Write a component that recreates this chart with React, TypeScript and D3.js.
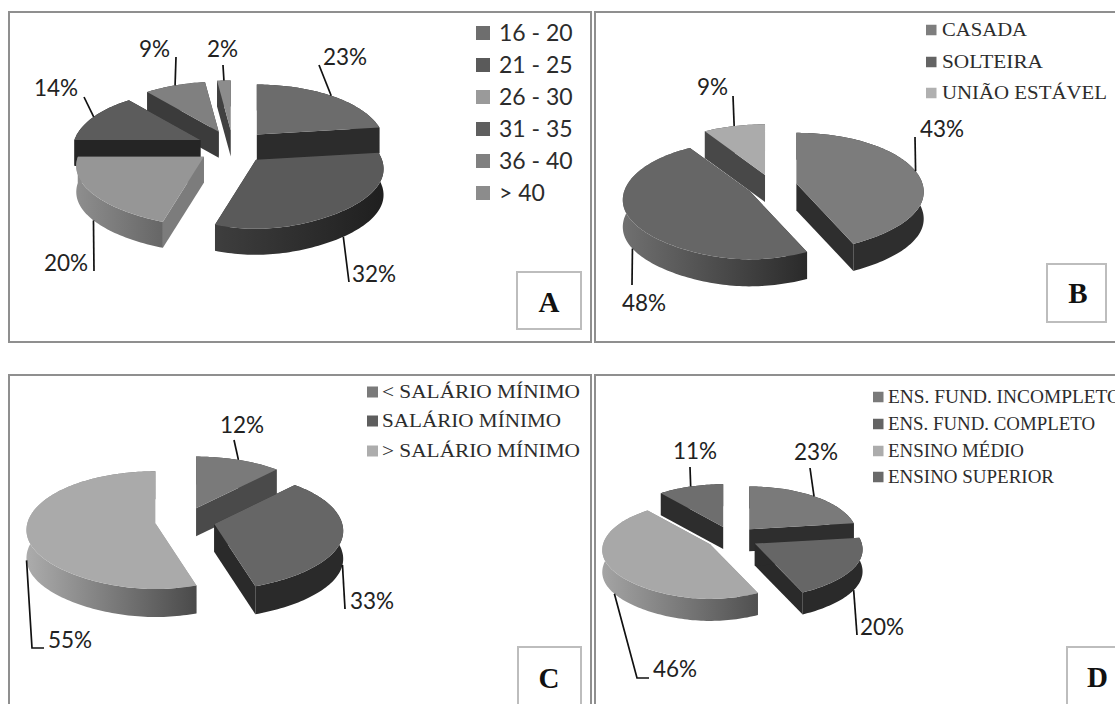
import React from "react";
import * as d3 from "d3";

// Percent shares per panel
const ageLabels = ["16 - 20", "21 - 25", "26 - 30", "31 - 35", "36 - 40", "> 40"];
const ageValues = [23, 32, 20, 14, 9, 2];
const maritalLabels = ["CASADA", "SOLTEIRA", "UNIÃO ESTÁVEL"];
const maritalValues = [43, 48, 9];
const incomeLabels = ["< SALÁRIO MÍNIMO", "SALÁRIO MÍNIMO", "> SALÁRIO MÍNIMO"];
const incomeValues = [12, 33, 55];
const schoolLabels = ["ENS. FUND. INCOMPLETO", "ENS. FUND. COMPLETO", "ENSINO MÉDIO", "ENSINO SUPERIOR"];
const schoolValues = [23, 20, 46, 11];

type Pt = [number, number];
type Panel = {
  id: string;
  frame: [number, number, number, number];
  badge: [number, number, number, number];
  badgeText: [number, number];
  labels: string[];
  values: number[];
  cx: number; cy: number; rx: number; ry: number; k: number; depth: number; explode: number;
  tops: string[];
  radial: string[];
  walls: [string, string][];
  swatches: string[];
  leaderEnds: Pt[][];
  textAt: Pt[];
  legend: { x: number; textX: number; ys: number[]; size: number; widths?: number[]; font: string; fontSize: number };
};

const panels: Panel[] = [
  {
    id: "A", frame: [9, 12, 582, 330], badge: [517, 272, 64, 57], badgeText: [549, 312],
    labels: ageLabels, values: ageValues,
    cx: 233, cy: 147, rx: 126, ry: 58, k: 0.16, depth: 26, explode: 36,
    tops: ["#6c6c6c", "#5a5a5a", "#969696", "#5c5c5c", "#808080", "#8c8c8c"],
    radial: ["#2c2c2c", "#2c2c2c", "#7c7c7c", "#252525", "#3b3b3b", "#404040"],
    walls: [["#2c2c2c", "#2c2c2c"], ["#3e3e3e", "#1f1f1f"], ["#8e8e8e", "#666666"], ["#252525", "#252525"], ["#3b3b3b", "#3b3b3b"], ["#404040", "#404040"]],
    swatches: ["#6e6e6e", "#5a5a5a", "#9a9a9a", "#5f5f5f", "#808080", "#8c8c8c"],
    leaderEnds: [[[319, 65]], [[349, 282]], [[94, 271]], [[84, 97]], [[176, 57]], [[223, 65]]],
    textAt: [[323, 65], [352, 282], [44, 271], [34, 96], [139, 57], [207, 57]],
    legend: { x: 476, textX: 499, ys: [33, 65, 97, 129, 161, 193], size: 14, font: "Lato", fontSize: 23 },
  },
  {
    id: "B", frame: [595, 12, 530, 330], badge: [1047, 264, 59, 58], badgeText: [1078, 303],
    labels: maritalLabels, values: maritalValues,
    cx: 772, cy: 186, rx: 126, ry: 58, k: 0.145, depth: 27, explode: 25,
    tops: ["#7c7c7c", "#666666", "#ababab"],
    radial: ["#2e2e2e", "#2e2e2e", "#484848"],
    walls: [["#2e2e2e", "#2e2e2e"], ["#707070", "#2a2a2a"], ["#484848", "#484848"]],
    swatches: ["#7e7e7e", "#646464", "#b0b0b0"],
    leaderEnds: [[[915, 137]], [[632, 285]], [[733, 96]]],
    textAt: [[920, 137], [622, 311], [697, 95]],
    legend: { x: 926, textX: 942, ys: [30, 62, 93], size: 10.5, widths: [85, 101, 165], font: "Liberation Serif", fontSize: 18 },
  },
  {
    id: "C", frame: [9, 375, 582, 340], badge: [518, 647, 63, 70], badgeText: [549, 688],
    labels: incomeLabels, values: incomeValues,
    cx: 185, cy: 521, rx: 128, ry: 58, k: 0.12, depth: 28, explode: 30,
    tops: ["#7a7a7a", "#666666", "#aaaaaa"],
    radial: ["#4a4a4a", "#2a2a2a", "#9a9a9a"],
    walls: [["#4a4a4a", "#4a4a4a"], ["#2a2a2a", "#2a2a2a"], ["#acacac", "#4a4a4a"]],
    swatches: ["#7a7a7a", "#5e5e5e", "#adadad"],
    leaderEnds: [[[234, 440]], [[345, 609]], [[32, 648], [44, 648]]],
    textAt: [[220, 433], [350, 609], [48, 648]],
    legend: { x: 367, textX: 382, ys: [392, 421, 451], size: 11, widths: [198, 179, 198], font: "Liberation Serif", fontSize: 18 },
  },
  {
    id: "D", frame: [595, 375, 530, 340], badge: [1067, 647, 60, 70], badgeText: [1087, 687],
    labels: schoolLabels, values: schoolValues,
    cx: 732, cy: 538, rx: 107, ry: 48, k: 0.122, depth: 22, explode: 26,
    tops: ["#7a7a7a", "#666666", "#a8a8a8", "#6e6e6e"],
    radial: ["#2e2e2e", "#2a2a2a", "#909090", "#2d2d2d"],
    walls: [["#2e2e2e", "#2e2e2e"], ["#2a2a2a", "#2a2a2a"], ["#a4a4a4", "#505050"], ["#2d2d2d", "#2d2d2d"]],
    swatches: ["#7a7a7a", "#646464", "#acacac", "#6a6a6a"],
    leaderEnds: [[[810, 468]], [[857, 635]], [[637, 678], [649, 678]], [[690, 467]]],
    textAt: [[794, 460], [860, 635], [653, 677], [673, 459]],
    legend: { x: 873, textX: 888, ys: [397, 424, 451, 477], size: 10.5, widths: [233, 207, 136, 166], font: "Liberation Serif", fontSize: 18 },
  },
];

const toPath = d3.line<Pt>().x((p) => p[0]).y((p) => p[1]);
const closed = (pts: Pt[]) => (toPath(pts) as string) + "Z";
const lowered = (pts: Pt[], d: number): Pt[] => pts.map(([x, y]) => [x, y + d] as Pt);

// Rim point of a slice around its own apex; the near side is foreshortened less in x
const rimOffset = (p: Panel, a: number): Pt => {
  const s = 1 / (1 + p.k * Math.cos(a));
  const sx = Math.cos(a) < 0 ? Math.pow(s, Math.abs(Math.sin(a))) : s;
  return [p.rx * Math.sin(a) * sx, -p.ry * Math.cos(a) * s];
};
const apexOf = (p: Panel, mid: number): Pt => [
  p.cx + p.explode * Math.sin(mid),
  p.cy - (p.explode * p.ry * Math.cos(mid)) / p.rx,
];

// One exploded slice of a tilted pie
function Slice({ panel, index, arc }: { panel: Panel; index: number; arc: d3.PieArcDatum<number> }) {
  const mid = (arc.startAngle + arc.endAngle) / 2;
  const apex = apexOf(panel, mid);
  const rim = (a: number): Pt => {
    const [dx, dy] = rimOffset(panel, a);
    return [apex[0] + dx, apex[1] + dy];
  };
  const steps = Math.max(6, Math.ceil((arc.endAngle - arc.startAngle) * 40));
  const angle = d3.scaleLinear().domain([0, steps]).range([arc.startAngle, arc.endAngle]);
  const arcPts = d3.range(steps + 1).map((i) => rim(angle(i)));
  const first = arcPts[0];
  const last = arcPts[arcPts.length - 1];
  const gradId = `wall-${panel.id}-${index}`;
  const depth = panel.depth;
  return (
    <g>
      <defs>
        <linearGradient id={gradId} x1="0" x2="1" y1="0" y2="0">
          <stop offset="0" stopColor={panel.walls[index][0]} />
          <stop offset="1" stopColor={panel.walls[index][1]} />
        </linearGradient>
      </defs>
      <path d={closed([apex, last, ...lowered([last, apex], depth)])} fill={panel.radial[index]} />
      <path d={closed([apex, first, ...lowered([first, apex], depth)])} fill={panel.radial[index]} />
      <path d={closed([...arcPts, ...lowered(arcPts, depth).reverse()])} fill={`url(#${gradId})`} />
      <path d={closed([apex, ...arcPts])} fill={panel.tops[index]} />
    </g>
  );
}

function Leader({ panel, index, arc }: { panel: Panel; index: number; arc: d3.PieArcDatum<number> }) {
  const mid = (arc.startAngle + arc.endAngle) / 2;
  const apex = apexOf(panel, mid);
  const [dx, dy] = rimOffset(panel, mid);
  const start: Pt = [apex[0] + dx, apex[1] + dy + (Math.cos(mid) < 0 ? panel.depth : 0)];
  const [tx, ty] = panel.textAt[index];
  return (
    <g>
      <path d={toPath([start, ...panel.leaderEnds[index]]) as string} fill="none" stroke="#111" strokeWidth={1.7} />
      <text x={tx} y={ty} fontFamily="Lato" fontSize={22.5} fill="#222">{`${panel.values[index]}%`}</text>
    </g>
  );
}

function PieChart({ panel }: { panel: Panel }) {
  const pie = d3.pie<number>().sort(null).value((v) => v).startAngle(0).endAngle(2 * Math.PI);
  const arcs = pie(panel.values);
  // Paint from the back of the pie towards the viewer
  const order = d3.range(arcs.length).sort(
    (a, b) =>
      Math.cos((arcs[b].startAngle + arcs[b].endAngle) / 2) - Math.cos((arcs[a].startAngle + arcs[a].endAngle) / 2)
  );
  const [fx, fy, fw, fh] = panel.frame;
  const [bx, by, bw, bh] = panel.badge;
  const lg = panel.legend;
  return (
    <g>
      <rect x={fx} y={fy} width={fw} height={fh} fill="#fff" stroke="#8f8f8f" strokeWidth={2} />
      {order.map((i) => (
        <Slice key={i} panel={panel} index={i} arc={arcs[i]} />
      ))}
      {arcs.map((a, i) => (
        <Leader key={i} panel={panel} index={i} arc={a} />
      ))}
      {panel.labels.map((name, i) => (
        <g key={name}>
          <rect x={lg.x} y={lg.ys[i] - lg.size / 2} width={lg.size} height={lg.size} fill={panel.swatches[i]} />
          <text
            x={lg.textX}
            y={lg.ys[i] + lg.fontSize * 0.34}
            fontFamily={lg.font}
            fontSize={lg.fontSize}
            fill="#2c2c2c"
            textLength={lg.widths ? lg.widths[i] : undefined}
            lengthAdjust="spacingAndGlyphs"
          >
            {name}
          </text>
        </g>
      ))}
      <rect x={bx} y={by} width={bw} height={bh} fill="#fff" stroke="#bdbdbd" strokeWidth={2} />
      <text
        x={panel.badgeText[0]}
        y={panel.badgeText[1]}
        textAnchor={panel.id === "D" ? "start" : "middle"}
        fontFamily="Liberation Serif"
        fontWeight="bold"
        fontSize={29}
        fill="#111"
      >
        {panel.id}
      </text>
    </g>
  );
}

export default function App() {
  return (
    <svg
      width={1115}
      height={704}
      viewBox="0 0 1115 704"
      style={{ position: "absolute", left: 0, top: 0, display: "block", background: "#fff" }}
    >
      {panels.map((p) => (
        <PieChart key={p.id} panel={p} />
      ))}
    </svg>
  );
}
